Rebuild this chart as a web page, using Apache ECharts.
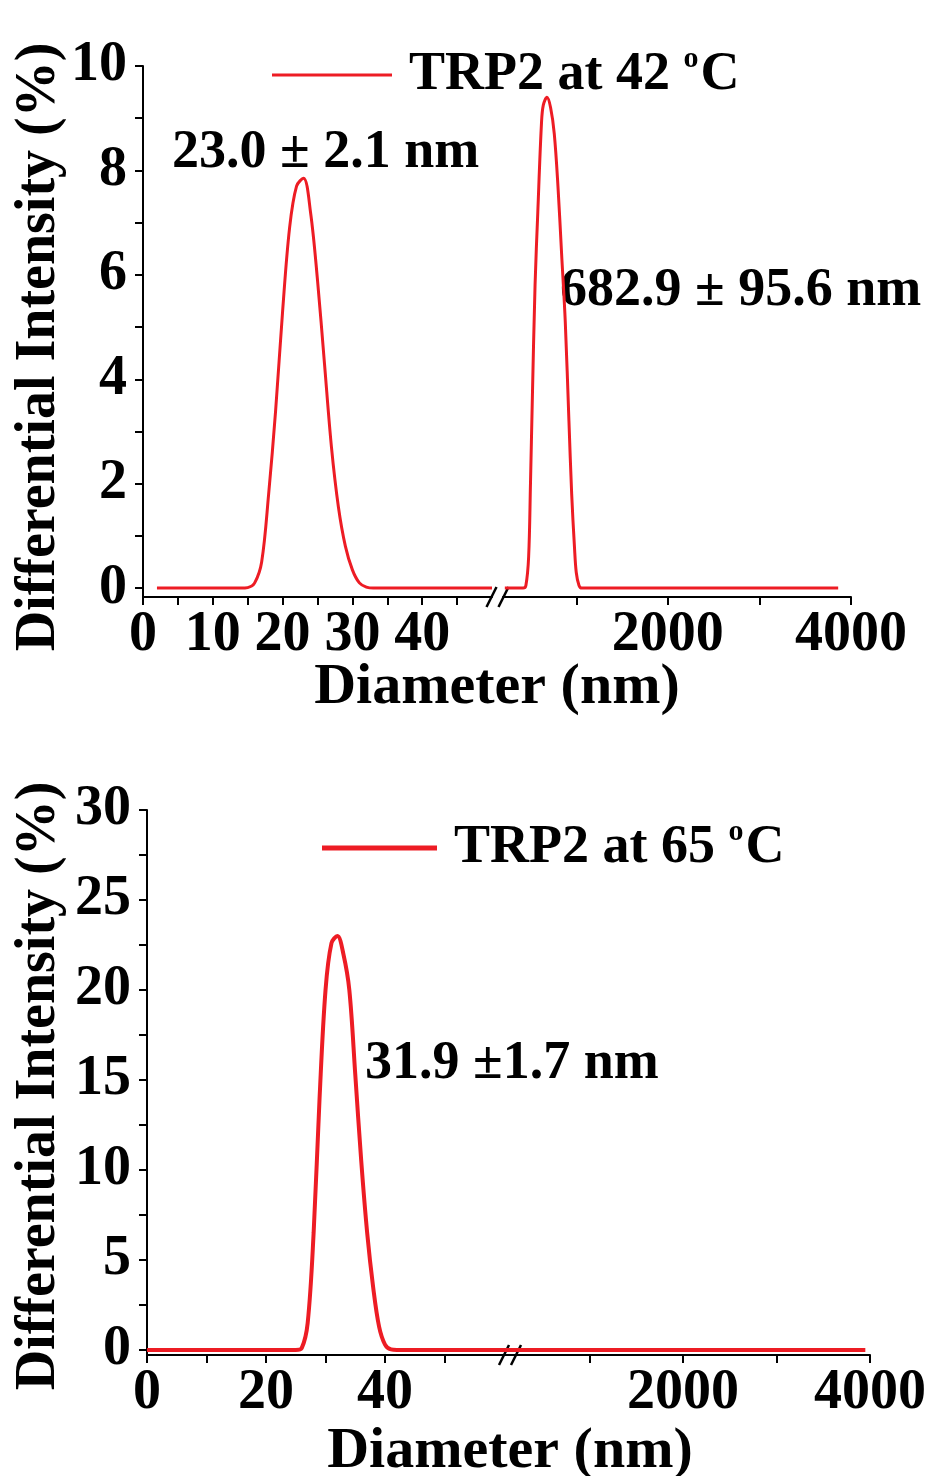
<!DOCTYPE html>
<html><head><meta charset="utf-8">
<script src="https://cdn.jsdelivr.net/npm/echarts@6/dist/echarts.min.js"></script>
<style>html,body{margin:0;padding:0;background:#fff}#c{width:929px;height:1476px}</style>
</head><body><div id="c"></div>
<script>
// ---------- DATA ----------
// Top panel: TRP2 at 42 °C
const topLeftDiameter  = [2, 14, 15, 16, 17, 18, 19, 20, 21, 22, 23, 24, 25, 26, 27, 28, 29, 30, 31, 32, 33, 50];
const topLeftIntensity = [0, 0, 0.01, 0.1, 0.5, 1.8, 3.4, 5.3, 6.9, 7.7, 7.85, 7.2, 5.9, 4.3, 2.7, 1.55, 0.8, 0.35, 0.1, 0.02, 0, 0];
const topRightDiameter  = [220, 420, 450, 480, 500, 520, 550, 580, 620, 640, 680, 720, 760, 800, 840, 880, 920, 950, 980, 1000, 1030, 1060, 3860];
const topRightIntensity = [0, 0, 0.05, 0.6, 2.0, 3.6, 5.8, 7.2, 8.9, 9.25, 9.4, 9.2, 8.7, 7.7, 6.4, 5.1, 3.2, 1.8, 0.8, 0.3, 0.05, 0, 0];
// Bottom panel: TRP2 at 65 °C
const bottomLeftDiameter  = [0, 25, 26, 27, 28, 29, 30, 31, 32, 33, 34, 35, 36, 37, 38, 39, 40, 41, 42, 61];
const bottomLeftIntensity = [0, 0, 0.1, 1.5, 6.5, 14, 20, 22.6, 23, 22, 20, 15.3, 10.5, 6.5, 3.5, 1.3, 0.3, 0.03, 0, 0];
const bottomRightDiameter  = [150, 3950];
const bottomRightIntensity = [0, 0];

// Tick values / labels
const topYTicks = [0, 1, 2, 3, 4, 5, 6, 7, 8, 9, 10];
const topYLabels = [0, 2, 4, 6, 8, 10];
const topLeftXTicks = [0, 5, 10, 15, 20, 25, 30, 35, 40, 45];
const topLeftXLabels = [0, 10, 20, 30, 40];
const rightXTicks = [1000, 2000, 3000, 4000];
const rightXLabels = [2000, 4000];
const bottomYTicks = [0, 2.5, 5, 7.5, 10, 12.5, 15, 17.5, 20, 22.5, 25, 27.5, 30];
const bottomYLabels = [0, 5, 10, 15, 20, 25, 30];
const bottomLeftXTicks = [0, 10, 20, 30, 40, 50];
const bottomLeftXLabels = [0, 20, 40];

const topName = 'TRP2 at 42 °C';
const bottomName = 'TRP2 at 65 °C';
const topPeakTexts = ['23.0 ± 2.1 nm', '682.9 ± 95.6 nm'];
const bottomPeakText = '31.9 ±1.7 nm';
const xTitle = 'Diameter (nm)';
const yTitle = 'Differential Intensity (%)';

// ---------- STYLE / LAYOUT ----------
const FONT = 'Liberation Serif';
const RED = '#ed1c24';
const zip = (a, b) => a.map((v, i) => [v, b[i]]);
const lbl = (vals, extra) => Object.assign({
  customValues: vals, fontFamily: FONT, fontWeight: 'bold', fontSize: 56, color: '#000',
  formatter: (v) => String(v)
}, extra || {});
const axLine = { show: true, onZero: false, lineStyle: { color: '#000', width: 2 } };
const tick = (vals) => ({ show: true, customValues: vals, length: 8, lineStyle: { color: '#000', width: 2 } });

const G = [
  { left: 143, top: 66, width: 349, height: 531 },
  { left: 503, top: 66, width: 348, height: 531 },
  { left: 147, top: 810, width: 363, height: 545 },
  { left: 510, top: 810, width: 362, height: 545 }
];

function xAx(gi, min, max, ticks, labels) {
  return { type: 'value', gridIndex: gi, min: min, max: max, axisLine: axLine, axisTick: tick(ticks),
    axisLabel: lbl(labels, { margin: 11 }), splitLine: { show: false } };
}
function yAx(gi, min, max, ticks, labels, show) {
  return { type: 'value', gridIndex: gi, min: min, max: max, show: show, axisLine: axLine, axisTick: tick(ticks),
    axisLabel: lbl(labels, { margin: 16 }), splitLine: { show: false } };
}
function line(name, xi, data, w) {
  return { type: 'line', name: name, xAxisIndex: xi, yAxisIndex: xi, data: data, showSymbol: false,
    smooth: 0.35, lineStyle: { color: RED, width: w }, itemStyle: { color: RED } };
}
const txt = { fontFamily: FONT, fontWeight: 'bold', fill: '#000' };
function gText(text, x, y, size, align, rot) {
  return { type: 'text', x: x, y: y, rotation: rot || 0,
    style: Object.assign({ text: text, fontSize: size, align: align || 'left', verticalAlign: 'middle' }, txt) };
}
function slash(cx, cy) {
  const s = { stroke: '#000', lineWidth: 2.5 };
  return [
    { type: 'line', shape: { x1: cx - 11, y1: cy + 10, x2: cx - 1, y2: cy - 10 }, style: s },
    { type: 'line', shape: { x1: cx + 1, y1: cy + 10, x2: cx + 11, y2: cy - 10 }, style: s }
  ];
}
function legendFor(name, left, top, w, h) {
  return { data: [name], left: left, top: top, icon: 'rect', itemWidth: w, itemHeight: h, padding: 0,
    selectedMode: false,
    formatter: (n) => '{g|}{a|' + n.replace(' °C', ' ') + '}{s|o}{a|C}',
    textStyle: { fontFamily: FONT, fontWeight: 'bold', color: '#000', fontSize: 54, lineHeight: 56,
      rich: { g: { width: 12 }, a: { fontSize: 54, lineHeight: 56, fontFamily: FONT, fontWeight: 'bold' },
              s: { fontSize: 30, lineHeight: 24, fontFamily: FONT, fontWeight: 'bold', padding: [0, 2, 32, 0] } } } };
}

const chart = echarts.init(document.getElementById('c'));
chart.setOption({
  backgroundColor: '#fff',
  animation: false,
  grid: G,
  xAxis: [
    xAx(0, 0, 50, topLeftXTicks, topLeftXLabels),
    xAx(1, 200, 4000, rightXTicks, rightXLabels),
    xAx(2, 0, 61, bottomLeftXTicks, bottomLeftXLabels),
    xAx(3, 150, 4000, rightXTicks, rightXLabels)
  ],
  yAxis: [
    yAx(0, -0.17, 10, topYTicks, topYLabels, true),
    yAx(1, -0.17, 10, topYTicks, topYLabels, false),
    yAx(2, -0.28, 30, bottomYTicks, bottomYLabels, true),
    yAx(3, -0.28, 30, bottomYTicks, bottomYLabels, false)
  ],
  legend: [
    legendFor(topName, 272, 44, 120, 3),
    legendFor(bottomName, 322, 817, 115, 5)
  ],
  series: [
    line(topName, 0, zip(topLeftDiameter, topLeftIntensity), 3),
    line(topName, 1, zip(topRightDiameter, topRightIntensity), 3),
    line(bottomName, 2, zip(bottomLeftDiameter, bottomLeftIntensity), 4),
    line(bottomName, 3, zip(bottomRightDiameter, bottomRightIntensity), 4)
  ],
  graphic: [
    gText(topPeakTexts[0], 172, 153, 54),
    gText(topPeakTexts[1], 560, 291, 54),
    gText(bottomPeakText, 365, 1064, 54),
    gText(xTitle, 497, 688, 58, 'center'),
    gText(xTitle, 510, 1452, 58, 'center'),
    gText(yTitle, 40, 347, 56, 'center', Math.PI / 2),
    gText(yTitle, 40, 1086, 56, 'center', Math.PI / 2)
  ].concat(slash(497.5, 597), slash(510, 1355))
});
</script></body></html>
